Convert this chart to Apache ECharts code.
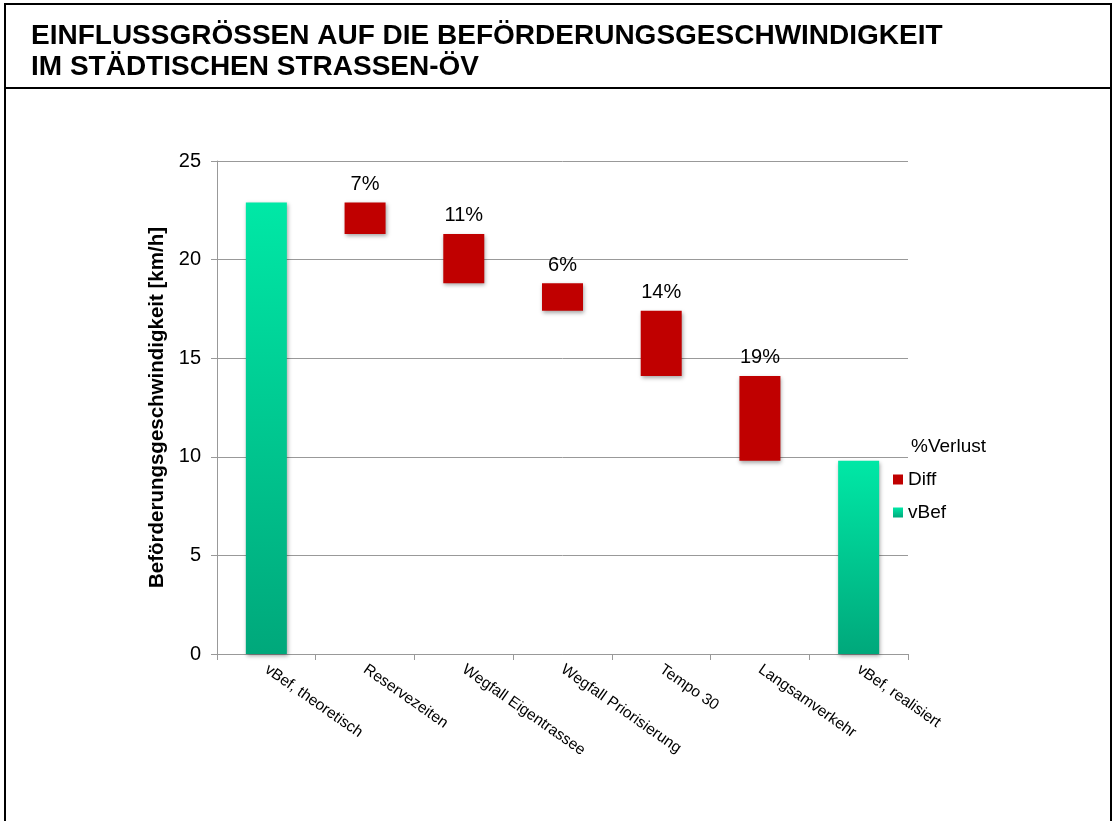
<!DOCTYPE html>
<html>
<head>
<meta charset="utf-8">
<script src="https://cdn.jsdelivr.net/npm/echarts@6/dist/echarts.min.js"></script>
<style>
  html, body { margin: 0; padding: 0; background: #fff; }
  #chart { width: 1114px; height: 821px; }
</style>
</head>
<body>
<div id="chart"></div>
<script>
// Kategorien und Werte (km/h)
const categories = ['vBef, theoretisch', 'Reservezeiten', 'Wegfall Eigentrassee', 'Wegfall Priorisierung', 'Tempo 30', 'Langsamverkehr', 'vBef, realisiert']
const vBef = [22.9, null, null, null, null, null, 9.8]
const diff = [null, 1.6, 2.5, 1.4, 3.3, 4.3, null]
const lossPct = ['', '7%', '11%', '6%', '14%', '19%', '']

// unsichtbarer Sockel fuer den Wasserfall
let running = vBef[0]
const base = diff.map(function (d) {
  if (d == null) return null
  running = running - d
  return Math.round(running * 100) / 100
})

const font = 'Liberation Sans, Arial, sans-serif'
const shadow = { shadowColor: 'rgba(0,0,0,0.35)', shadowBlur: 4, shadowOffsetX: 1, shadowOffsetY: 2 }

var chart = echarts.init(document.getElementById('chart'))
chart.setOption({
  animation: false,
  textStyle: { fontFamily: font },
  title: [
    {
      text: 'EINFLUSSGRÖSSEN AUF DIE BEFÖRDERUNGSGESCHWINDIGKEIT\nIM STÄDTISCHEN STRASSEN-ÖV',
      left: 26,
      top: 16,
      textStyle: { fontSize: 28, fontWeight: 'bold', color: '#000', lineHeight: 31, fontFamily: font }
    },
    {
      text: '%Verlust',
      left: 906,
      top: 432,
      textStyle: { fontSize: 19, fontWeight: 'normal', color: '#000', fontFamily: font }
    }
  ],
  graphic: [
    { type: 'rect', shape: { x: 5, y: 4, width: 1106, height: 830 }, style: { fill: 'none', stroke: '#000', lineWidth: 2 } },
    { type: 'line', shape: { x1: 5, y1: 88, x2: 1111, y2: 88 }, style: { stroke: '#000', lineWidth: 2 } }
  ],
  legend: {
    orient: 'vertical',
    left: 888,
    top: 465,
    itemWidth: 10,
    itemHeight: 10,
    itemGap: 14,
    icon: 'rect',
    data: ['Diff', 'vBef'],
    textStyle: { fontSize: 19, color: '#000', fontFamily: font }
  },
  grid: { left: 217, right: 206, top: 161, bottom: 167 },
  xAxis: {
    type: 'category',
    data: categories,
    axisLine: { lineStyle: { color: '#999' } },
    axisTick: { show: true, length: 6, lineStyle: { color: '#999' } },
    axisLabel: { rotate: -35, fontSize: 15.5, color: '#000', margin: 14, interval: 0, fontFamily: font }
  },
  yAxis: {
    type: 'value',
    min: 0,
    max: 25,
    interval: 5,
    name: 'Beförderungsgeschwindigkeit [km/h]',
    nameLocation: 'middle',
    nameGap: 46,
    nameTextStyle: { fontSize: 20.5, fontWeight: 'bold', color: '#000', fontFamily: font },
    axisLine: { show: true, lineStyle: { color: '#999' } },
    axisTick: { show: true, length: 6, lineStyle: { color: '#999' } },
    axisLabel: { fontSize: 20, color: '#000', margin: 16, fontFamily: font },
    splitLine: { lineStyle: { color: '#999' } }
  },
  series: [
    {
      name: 'base',
      type: 'bar',
      stack: 'w',
      barWidth: 41,
      data: base,
      itemStyle: { color: 'transparent' },
      silent: true
    },
    {
      name: 'Diff',
      type: 'bar',
      stack: 'w',
      barWidth: 41,
      data: diff,
      itemStyle: Object.assign({ color: '#C00000' }, shadow),
      label: {
        show: true,
        position: 'top',
        distance: 8,
        fontSize: 20,
        color: '#000',
        fontFamily: font,
        formatter: function (p) { return lossPct[p.dataIndex] }
      }
    },
    {
      name: 'vBef',
      type: 'bar',
      stack: 'w',
      barWidth: 41,
      data: vBef,
      itemStyle: Object.assign({
        color: new echarts.graphic.LinearGradient(0, 0, 0, 1, [
          { offset: 0, color: '#00E8A6' },
          { offset: 1, color: '#00A87B' }
        ])
      }, shadow)
    }
  ]
})
</script>
</body>
</html>
